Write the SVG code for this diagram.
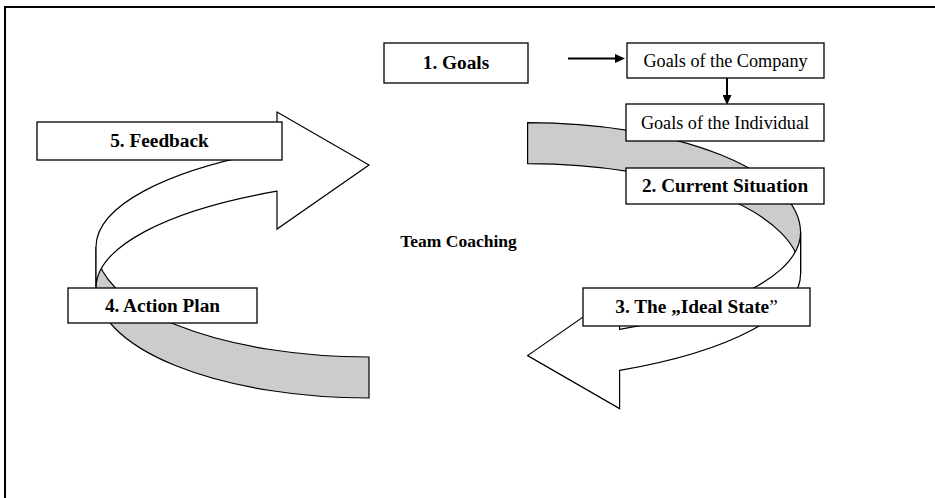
<svg xmlns="http://www.w3.org/2000/svg" width="935" height="498" viewBox="0 0 935 498">
<style>
.box{fill:#fff;stroke:#000;stroke-width:1.3}
.back{fill:#cccccc;stroke:#000;stroke-width:1.2;stroke-linejoin:miter}
.front{fill:#fff;stroke:#000;stroke-width:1.2;stroke-linejoin:miter}
.lb{font-family:"Liberation Serif","Times New Roman",serif;font-weight:bold;font-size:19.3px;text-anchor:middle;fill:#000}
.lr{font-family:"Liberation Serif","Times New Roman",serif;font-size:18.2px;text-anchor:middle;fill:#000}
.conn{stroke:#000;stroke-width:2;fill:none}
.frame{stroke:#000;stroke-width:2;fill:none}
</style>
<defs>
<marker id="ah" viewBox="0 0 10 9" refX="0" refY="4.5" markerWidth="10" markerHeight="9" markerUnits="userSpaceOnUse" orient="auto"><path d="M0,0 L10,4.5 L0,9 Z" fill="#000"/></marker>
<g id="curved">
<path class="back" d="M96,247 A273,110 0 0 0 369,357 L369,398 A273,110 0 0 1 96,288 Z"/>
<path class="front" d="M96,288 L96,247 A345,110 0 0 1 277,150.2 L277,112 L369,165 L277,229 L277,191.2 A345,110 0 0 0 96,288 Z"/>
</g>
</defs>
<path class="frame" d="M5,498 L5,7 L935,7"/>
<g id="cycle-arrows">
<use href="#curved"/>
<use href="#curved" transform="rotate(180 448.3 260.3)"/>
</g>
<g id="connectors">
<line class="conn" x1="568" y1="58.5" x2="615" y2="58.5" marker-end="url(#ah)"/>
<line class="conn" x1="727" y1="78" x2="727" y2="95" marker-end="url(#ah)"/>
</g>
<g id="node-goals"><rect class="box" x="384" y="43" width="144" height="40"/><text class="lb" x="456" y="69.3">1. Goals</text></g>
<g id="node-company"><rect class="box" x="627" y="43" width="197" height="35"/><text class="lr" x="725.5" y="66.6">Goals of the Company</text></g>
<g id="node-individual"><rect class="box" x="626" y="104" width="198" height="37"/><text class="lr" x="725" y="128.6">Goals of the Individual</text></g>
<g id="node-current"><rect class="box" x="626" y="168" width="198" height="36"/><text class="lb" x="725" y="192.4">2. Current Situation</text></g>
<g id="node-ideal"><rect class="box" x="583" y="288" width="227" height="38"/><text class="lb" x="696.5" y="313.4">3. The „Ideal State<tspan font-weight="normal">”</tspan></text></g>
<g id="node-action"><rect class="box" x="68" y="288" width="189" height="35"/><text class="lb" x="162.5" y="311.9">4. Action Plan</text></g>
<g id="node-feedback"><rect class="box" x="37" y="122" width="245" height="38"/><text class="lb" x="159.5" y="147.4">5. Feedback</text></g>
<g id="node-team"><text class="lb" x="458.5" y="247.3" style="font-size:17.5px">Team Coaching</text></g>
</svg>
